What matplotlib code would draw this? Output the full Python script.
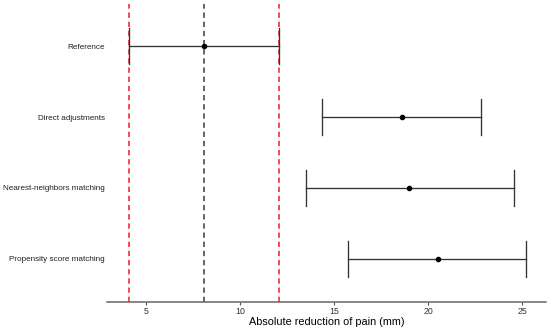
import matplotlib.pyplot as plt
import numpy as np

plt.rcParams['font.family'] = ['Liberation Sans', 'DejaVu Sans']

methods = ["Reference", "Direct adjustments", "Nearest-neighbors matching", "Propensity score matching"]
estimate = [8.1, 18.6, 19.0, 20.5]
lower = [4.1, 14.35, 13.5, 15.75]
upper = [12.1, 22.8, 24.55, 25.2]

ref_est = 8.1
ref_lo = 4.1
ref_hi = 12.1

fig = plt.figure(figsize=(5.5, 3.28), dpi=100)
ax = fig.add_axes([107/550, 1 - 301.5/328, (546-107)/550, (301.5-3.5)/328])

# y positions: first category at top
y = np.arange(len(methods))[::-1] + 1

for yi, lo, hi, est in zip(y, lower, upper, estimate):
    ax.plot([lo, hi], [yi, yi], color="#333333", lw=0.95, zorder=3)
    ax.plot([lo, lo], [yi - 0.25, yi + 0.25], color="#333333", lw=0.95, zorder=3)
    ax.plot([hi, hi], [yi - 0.25, yi + 0.25], color="#333333", lw=0.95, zorder=3)
    ax.plot(est, yi, "o", color="black", ms=3, zorder=4)

ax.axvline(ref_lo, color="#f01c24", ls=(0, (3.5, 2.5)), lw=1.1, zorder=2)
ax.axvline(ref_hi, color="#f01c24", ls=(0, (3.5, 2.5)), lw=1.1, zorder=2)
ax.axvline(ref_est, color="#3a3a3a", ls=(0, (3.5, 2.5)), lw=1.1, zorder=2)

ax.set_xlim(2.95, 26.25)
ax.set_ylim(0.4, 4.6)
ax.set_xticks([5, 10, 15, 20, 25])
ax.set_yticks(y)
ax.set_yticklabels(methods, fontsize=5.9, color="#222222")
ax.tick_params(axis="y", length=0, pad=1.5)
ax.tick_params(axis="x", length=2.5, width=0.8, color="#555555", labelsize=6.3, labelcolor="#333333", pad=1.5)

for s in ["top", "right", "left"]:
    ax.spines[s].set_visible(False)
ax.spines["bottom"].set_color("#666666")
ax.spines["bottom"].set_linewidth(1.1)

ax.set_xlabel("Absolute reduction of pain (mm)", fontsize=7.8, labelpad=0.5)

fig.savefig("out.png", dpi=100)
